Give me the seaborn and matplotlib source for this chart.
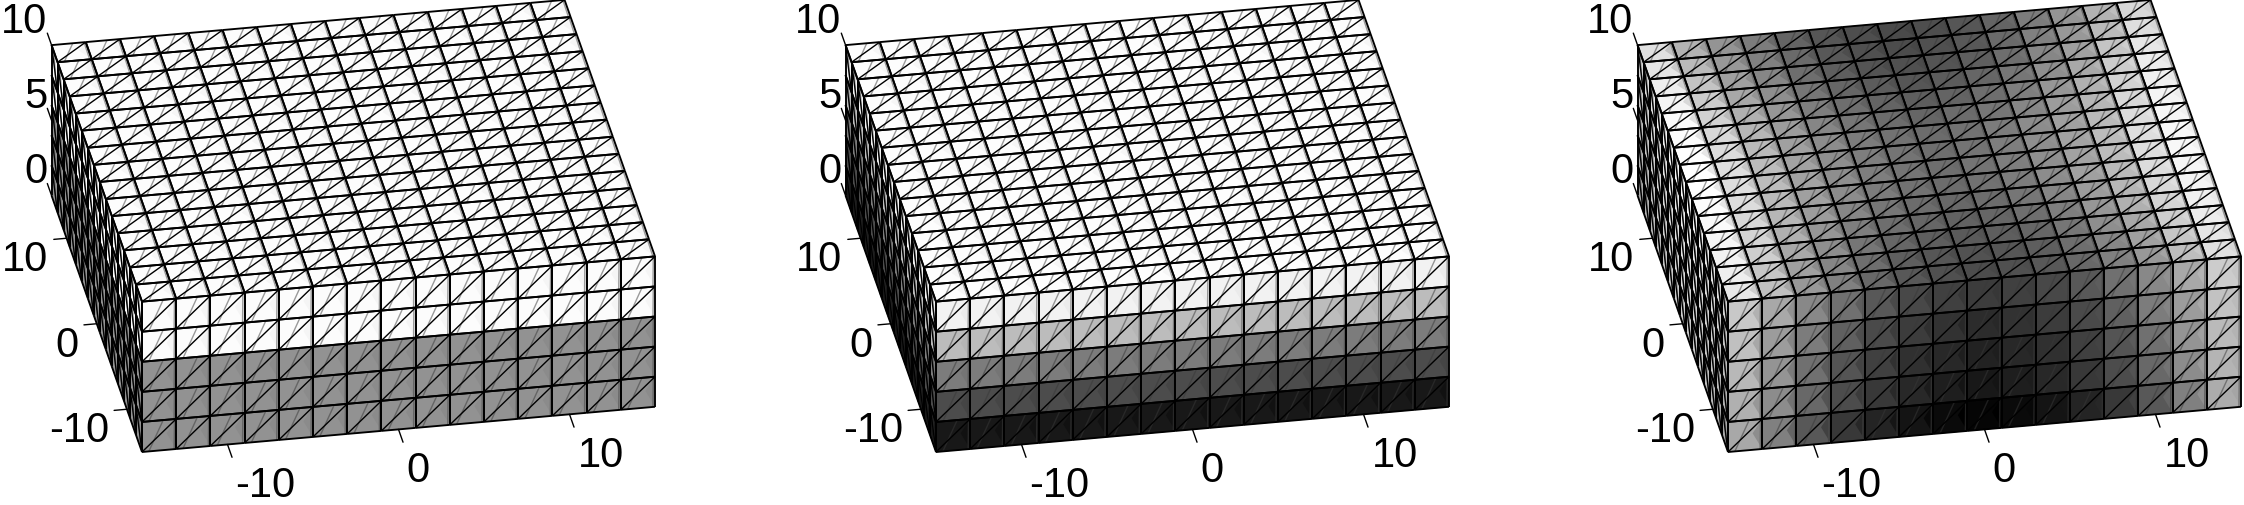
import matplotlib
matplotlib.use("Agg")
import matplotlib.pyplot as plt
import numpy as np
import seaborn as sns
from matplotlib.colors import Normalize
from mpl_toolkits.mplot3d import proj3d
from mpl_toolkits.mplot3d.art3d import Line3DCollection, Poly3DCollection

# mesh nodes and ticks
x_nodes = [-15, -13, -11, -9, -7, -5, -3, -1, 1, 3, 5, 7, 9, 11, 13, 15]
y_nodes = [-15, -13, -11, -9, -7, -5, -3, -1, 1, 3, 5, 7, 9, 11, 13, 15]
z_nodes = [0, 2, 4, 6, 8, 10]
x_ticks = [-10, 0, 10]
y_ticks = [-10, 0, 10]
z_ticks = [0, 5, 10]

# grey level (0-255) of the cells
top_level_1 = 253
side_levels_1 = [146, 146, 146, 252, 252]
top_level_2 = 253
side_levels_2 = [24, 76, 124, 188, 242]

top_levels_3 = [
    [232, 192, 152, 128, 104, 88, 80, 76, 80, 88, 104, 128, 152, 190, 224],
    [238, 198, 160, 134, 110, 94, 86, 82, 86, 94, 110, 134, 160, 198, 230],
    [242, 206, 168, 142, 118, 102, 94, 90, 94, 102, 118, 142, 168, 206, 236],
    [246, 212, 176, 150, 126, 110, 102, 98, 102, 110, 126, 150, 176, 212, 240],
    [250, 216, 182, 156, 134, 118, 108, 104, 108, 118, 134, 156, 182, 216, 244],
    [252, 220, 186, 160, 140, 124, 114, 108, 114, 124, 140, 160, 186, 220, 246],
    [254, 222, 188, 162, 142, 126, 116, 110, 116, 126, 142, 162, 188, 222, 248],
    [255, 222, 188, 162, 142, 126, 116, 110, 116, 126, 142, 162, 188, 222, 248],
    [254, 220, 186, 160, 140, 124, 114, 108, 114, 124, 140, 160, 186, 220, 246],
    [252, 216, 182, 156, 134, 118, 108, 102, 108, 118, 134, 156, 182, 216, 244],
    [250, 210, 176, 150, 126, 110, 100, 94, 100, 110, 126, 150, 176, 210, 240],
    [244, 204, 168, 142, 118, 102, 92, 86, 92, 102, 118, 142, 168, 204, 236],
    [238, 196, 160, 134, 110, 94, 84, 80, 84, 94, 110, 134, 160, 196, 230],
    [230, 186, 152, 128, 106, 88, 80, 76, 80, 88, 106, 128, 152, 186, 222],
    [224, 178, 148, 124, 100, 86, 78, 74, 78, 86, 100, 124, 148, 178, 216],
]
front_levels_3 = [
    [168, 128, 88, 56, 36, 20, 10, 5, 10, 20, 36, 56, 88, 128, 172],
    [176, 140, 104, 76, 56, 40, 30, 24, 30, 40, 56, 76, 104, 140, 180],
    [184, 148, 112, 84, 64, 48, 40, 34, 40, 48, 64, 84, 112, 148, 186],
    [192, 156, 124, 96, 74, 60, 50, 44, 50, 60, 74, 96, 124, 156, 194],
    [200, 168, 136, 112, 88, 72, 64, 60, 64, 72, 88, 112, 136, 168, 204],
]
left_levels_3 = [
    [168, 176, 184, 190, 196, 200, 204, 206, 204, 200, 196, 190, 184, 176, 168],
    [178, 186, 194, 200, 206, 210, 214, 216, 214, 210, 206, 200, 194, 186, 178],
    [188, 196, 204, 210, 216, 220, 224, 226, 224, 220, 216, 210, 204, 196, 188],
    [198, 206, 214, 220, 226, 230, 234, 236, 234, 230, 226, 220, 214, 206, 198],
    [212, 220, 228, 234, 240, 244, 248, 250, 248, 244, 240, 234, 228, 220, 212],
]

# position of the front lower left corner of each box, in pixels
box_left_px = [142, 936, 1728]
box_bottom_px = 452
box_width_px = 515

sns.set_theme(style="white")
plt.rcParams["font.family"] = ["Liberation Sans", "DejaVu Sans"]

cmap = sns.color_palette("gray", as_cmap=True)
norm = Normalize(0, 255)


def face_mesh(ax, corner_fn, levels):
    """Triangles and lines of one box face. corner_fn(i, j, u, v) gives a 3D point."""
    levels = np.asarray(levels, dtype=float)
    tris, tri_levels, wedges, wedge_levels = [], [], [], []
    edges, diagonals, grey, grey_levels = [], [], [], []
    rows, cols = levels.shape
    for j in range(rows):
        for i in range(cols):
            p = lambda u, v: corner_fn(i, j, u, v)
            lev = levels[j, i]
            nxt = levels[j, min(i + 1, cols - 1)]
            tris += [[p(0, 0), p(1, 0), p(1, 1)], [p(0, 0), p(1, 1), p(0, 1)]]
            tri_levels += [lev, lev]
            wedges.append([p(1, 0), p(1, 1), p(0.72, 0.55)])
            wedge_levels.append(0.5 * (lev + nxt) - 7)
            grey.append([p(0.2, 0), p(0.62, 1)])
            grey.append([p(0.94, 0), p(0.95, 1)])
            grey_levels += [0.5 * lev + 28, 0.5 * lev + 28]
            diagonals.append([p(0, 0), p(1, 1)])
            edges.append([p(0, 0), p(1, 0)])
            edges.append([p(0, 1), p(1, 1)])
            edges.append([p(0, 0), p(0, 1)])
            edges.append([p(1, 0), p(1, 1)])
    tri_colors = cmap(norm(tri_levels))
    wedge_colors = cmap(norm(wedge_levels))
    polys = Poly3DCollection(tris, facecolors=tri_colors, edgecolors=tri_colors,
                             linewidths=0.4, zorder=1)
    polys2 = Poly3DCollection(wedges, facecolors=wedge_colors, edgecolors=wedge_colors,
                              linewidths=0, zorder=2)
    grey_lines = Line3DCollection(grey, colors=cmap(norm(grey_levels)), linewidths=1.0, zorder=3)
    diag_lines = Line3DCollection(diagonals, colors="black", linewidths=1.0, zorder=4)
    edge_lines = Line3DCollection(edges, colors="black", linewidths=1.35, zorder=4)
    for art in (polys, polys2, grey_lines, diag_lines, edge_lines):
        ax.add_collection3d(art, autolim=False)
        art.set_clip_on(False)


def to_pixels(ax, x, y, z):
    px, py, _ = proj3d.proj_transform(x, y, z, ax.get_proj())
    return ax.transData.transform((px, py))


def place_axes(fig, ax, left_px, bottom_px):
    # the view is a real one, only zoom and shift are fitted here
    fig_w, fig_h = fig.get_size_inches() * fig.dpi
    zoom = 1.0
    for _ in range(3):
        fig.canvas.draw()
        a = to_pixels(ax, x_nodes[0], y_nodes[0], z_nodes[0])
        b = to_pixels(ax, x_nodes[-1], y_nodes[0], z_nodes[0])
        zoom *= box_width_px / np.hypot(*(b - a))
        ax.set_box_aspect((3, 3, 1), zoom=zoom)
        fig.canvas.draw()
        a = to_pixels(ax, x_nodes[0], y_nodes[0], z_nodes[0])
        pos = ax.get_position(original=True)
        dx = (left_px - a[0]) / fig_w
        dy = ((fig_h - bottom_px) - a[1]) / fig_h
        ax.set_position([pos.x0 + dx, pos.y0 + dy, pos.width, pos.height])


def draw_panel(fig, left_px, top_levels, front_levels, left_levels):
    ax = fig.add_axes([0.1, 0.0, 0.3, 1.0], projection="3d", proj_type="ortho",
                      computed_zorder=False)
    ax.set_xlim(x_nodes[0], x_nodes[-1])
    ax.set_ylim(y_nodes[0], y_nodes[-1])
    ax.set_zlim(z_nodes[0], z_nodes[-1])
    ax.view_init(elev=30, azim=-100)
    ax.set_box_aspect((3, 3, 1), zoom=1.0)
    ax.set_axis_off()
    ax.patch.set_alpha(0)
    place_axes(fig, ax, left_px, box_bottom_px)
    fig.canvas.draw()

    xn, yn, zn = np.array(x_nodes), np.array(y_nodes), np.array(z_nodes)
    top_z = zn[-1]

    def top_pt(i, j, u, v):
        return (xn[i] + u * (xn[i + 1] - xn[i]), yn[j] + v * (yn[j + 1] - yn[j]), top_z)

    def front_pt(i, j, u, v):
        return (xn[i] + u * (xn[i + 1] - xn[i]), yn[0], zn[j] + v * (zn[j + 1] - zn[j]))

    def left_pt(i, j, u, v):
        return (xn[0], yn[i] + u * (yn[i + 1] - yn[i]), zn[j] + v * (zn[j + 1] - zn[j]))

    face_mesh(ax, left_pt, left_levels)
    face_mesh(ax, front_pt, front_levels)
    face_mesh(ax, top_pt, top_levels)

    # ticks run along the neighbouring axis
    tick_kw = dict(color="black", lw=1.0, clip_on=False, zorder=5)
    text_kw = dict(fontsize=30, color="black", annotation_clip=False,
                   textcoords="offset pixels", zorder=6)
    for t in x_ticks:
        ax.plot([t, t], [yn[0], yn[0] - 1.5], [zn[0], zn[0]], **tick_kw)
        xy = ax.transData.inverted().transform(to_pixels(ax, t, yn[0], zn[0]))
        ax.annotate(str(t), xy, xytext=(8, -42), ha="left", va="center", **text_kw)
    for t in y_ticks:
        ax.plot([xn[0], xn[0] - 0.75], [t, t], [zn[0], zn[0]], **tick_kw)
        xy = ax.transData.inverted().transform(to_pixels(ax, xn[0], t, zn[0]))
        ax.annotate(str(t), xy, xytext=(-18, -22), ha="right", va="center", **text_kw)
    for t in z_ticks:
        ax.plot([xn[0], xn[0]], [yn[-1], yn[-1] + 1.4], [t, t], **tick_kw)
        xy = ax.transData.inverted().transform(to_pixels(ax, xn[0], yn[-1], t))
        ax.annotate(str(t), xy, xytext=(-4, 23), ha="right", va="center", **text_kw)
    return ax


fig = plt.figure(figsize=(22.44, 5.05), dpi=100, facecolor="white")

n_cells = len(x_nodes) - 1
panels = [
    (np.full((n_cells, n_cells), top_level_1),
     np.tile(np.array(side_levels_1)[:, None], (1, n_cells)),
     np.tile(np.array(side_levels_1)[:, None], (1, n_cells))),
    (np.full((n_cells, n_cells), top_level_2),
     np.tile(np.array(side_levels_2)[:, None], (1, n_cells)),
     np.tile(np.array(side_levels_2)[:, None], (1, n_cells))),
    (top_levels_3, front_levels_3, left_levels_3),
]
for left_px, (top_lv, front_lv, left_lv) in zip(box_left_px, panels):
    draw_panel(fig, left_px, top_lv, front_lv, left_lv)

fig.savefig("out.png", dpi=100, facecolor="white")
